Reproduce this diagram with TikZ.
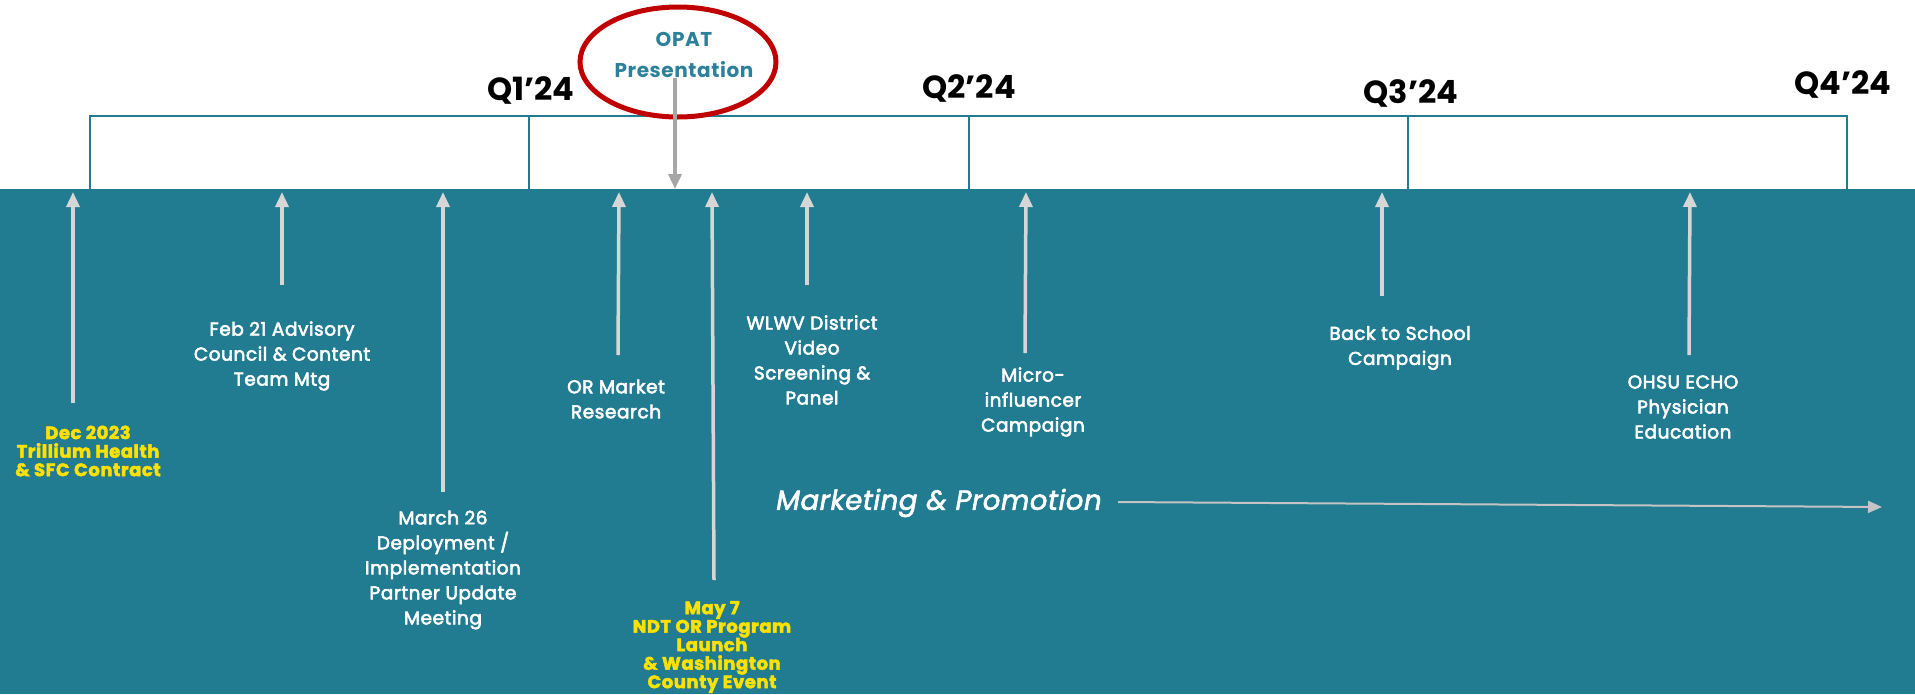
\documentclass[tikz,border=0pt]{standalone}
\usepackage{fontspec}
\setmainfont{Poppins}
\newfontfamily\wfont[FakeBold=3, LetterSpace=3]{Poppins}
\newfontfamily\yfont[BoldFeatures={FakeBold=2.5}, LetterSpace=3]{Poppins}
\newfontfamily\ofont[LetterSpace=3]{Poppins}
\newfontfamily\mfont[ItalicFeatures={FakeBold=2.2}, LetterSpace=2]{Poppins}
\usetikzlibrary{arrows.meta,shapes.geometric}
\definecolor{bandteal}{HTML}{217B91}
\definecolor{opatteal}{HTML}{2A8199}
\definecolor{evyellow}{HTML}{FFE100}
\definecolor{upgray}{HTML}{D6D6D6}
\definecolor{downgray}{HTML}{A6A6A6}
\definecolor{mktgray}{HTML}{C4C4C4}
\definecolor{opatred}{HTML}{C00000}
\begin{document}
\begin{tikzpicture}[x=1pt,y=-1pt,
  wlabel/.style={text=white, align=center, inner sep=0pt, font=\wfont\fontsize{18.5}{25}\selectfont},
  ylabel/.style={text=evyellow, align=center, inner sep=0pt, font=\yfont\bfseries\fontsize{18}{18.5}\selectfont},
  qlabel/.style={text=black, inner sep=0pt, font=\bfseries\fontsize{32}{34}\selectfont},
  bracket/.style={draw=bandteal, line width=2.5pt},
  uparrow/.style={draw=upgray, line width=3.5pt, -{Triangle[length=15pt,width=13pt]}},
  downarrow/.style={draw=downgray, line width=3.5pt, -{Triangle[length=15pt,width=13pt]}},
  mktarrow/.style={draw=mktgray, line width=2pt, -{Triangle[length=14pt,width=12pt]}}
]
\useasboundingbox (0,0) rectangle (1915,694);
\fill[white] (0,0) rectangle (1915,189);
\fill[bandteal] (0,189) rectangle (1915,694);

% quarter bracket
\coordinate (b0) at (90,189);
\coordinate (b1) at (529,189);
\coordinate (b2) at (969,189);
\coordinate (b3) at (1408,189);
\coordinate (b4) at (1847,189);
\draw[bracket] (b0) -- (90,116) -- (1847,116) -- (b4);
\draw[bracket] (b1) -- (529,116);
\draw[bracket] (b2) -- (969,116);
\draw[bracket] (b3) -- (1408,116);

\node[qlabel] (q1) at (531,90) {Q1’24};
\node[qlabel] (q2) at (969,88) {Q2’24};
\node[qlabel] (q3) at (1411,93) {Q3’24};
\node[qlabel] (q4) at (1843,84) {Q4’24};

% OPAT
\node[ellipse, draw=opatred, line width=5pt, minimum width=196pt, minimum height=110pt, inner sep=0pt] (opat) at (678,62) {};
\node[text=opatteal, align=center, inner sep=0pt, font=\ofont\bfseries\fontsize{20}{31}\selectfont] (opattext) at (684,55) {OPAT\\Presentation};
\coordinate (opatfrom) at (675,78);
\coordinate (opatto) at (675,189);
\draw[downarrow] (opatfrom) -- (opatto);

% events
\node[ylabel] (dec) at (88,451) {Dec 2023\\Trillium Health\\\& SFC Contract};
\node[wlabel] (feb) at (282,356) {Feb 21 Advisory\\Council \& Content\\Team Mtg};
\node[wlabel] (mar) at (443,570) {March 26\\Deployment /\\Implementation\\Partner Update\\Meeting};
\node[wlabel] (orm) at (616,399) {OR Market\\Research};
\node[ylabel] (may) at (712,647) {May 7\\NDT OR Program\\Launch\\\& Washington\\County Event};
\node[wlabel] (wlwv) at (812,360) {WLWV District\\Video\\Screening \&\\Panel};
\node[wlabel] (micro) at (1033,402) {Micro-\\influencer\\Campaign};
\node[wlabel] (back) at (1400,348) {Back to School\\Campaign};
\node[wlabel] (ohsu) at (1683,407) {OHSU ECHO\\Physician\\Education};

\coordinate (decA) at (73,403);   \coordinate (decT) at (73,192);
\coordinate (febA) at (282,285);  \coordinate (febT) at (282,192);
\coordinate (marA) at (443,492);  \coordinate (marT) at (443,192);
\coordinate (ormA) at (618,355);  \coordinate (ormT) at (619,192);
\coordinate (mayA) at (714,580);  \coordinate (mayT) at (712,192);
\coordinate (wlwvA) at (807,285); \coordinate (wlwvT) at (807,192);
\coordinate (microA) at (1025,353); \coordinate (microT) at (1026,192);
\coordinate (backA) at (1382,296); \coordinate (backT) at (1382,192);
\coordinate (ohsuA) at (1689,355); \coordinate (ohsuT) at (1690,192);

\foreach \e in {dec,feb,mar,orm,may,wlwv,micro,back,ohsu}
  \draw[uparrow] (\e A) -- (\e T);

% marketing
\node[text=white, inner sep=0pt, font=\mfont\itshape\fontsize{27.5}{30}\selectfont] (mkt) at (939,503) {Marketing \& Promotion};
\coordinate (mktS) at (1118,502);
\coordinate (mktE) at (1882,507);
\draw[mktarrow] (mktS) -- (mktE);
\end{tikzpicture}
\end{document}
